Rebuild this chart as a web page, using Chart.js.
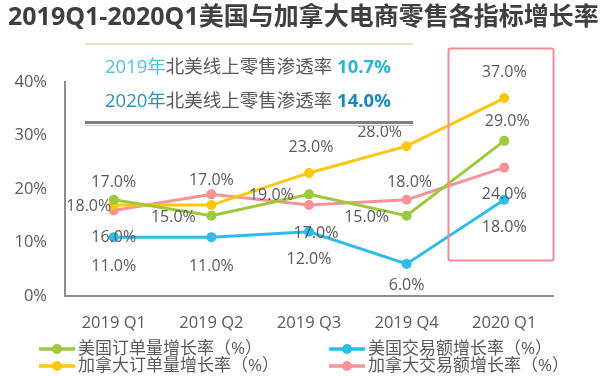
<!DOCTYPE html>
<html><head><meta charset="utf-8">
<script src="https://cdn.jsdelivr.net/npm/chart.js@4.4.0/dist/chart.umd.min.js"></script>
<style>html,body{margin:0;padding:0;background:#fff}#wrap{width:600px;height:376px;position:relative}</style>
</head><body><div id="wrap"><canvas id="c" width="600" height="376"></canvas></div>
<script>
const categories = ['2019 Q1','2019 Q2','2019 Q3','2019 Q4','2020 Q1'];
const usOrders = [18,15,19,15,29];
const usSales = [11,11,12,6,18];
const caOrders = [17,17,23,28,37];
const caSales = [16,19,17,18,24];
const yTicks = [0,10,20,30,40];
const seriesNames = ['美国订单量增长率（%）','美国交易额增长率（%）','加拿大订单量增长率（%）','加拿大交易额增长率（%）'];
const titleText = '2019Q1-2020Q1美国与加拿大电商零售各指标增长率';
const penetration = [['2019年','北美线上零售渗透率 ','10.7%'],['2020年','北美线上零售渗透率 ','14.0%']];

const FONT = "'Open Sans','Noto Sans CJK SC',sans-serif";
const colors = ['#9dc93c','#2bbde8','#fcc60a','#f4939a'];
const txt = '#595959';

// label placement: [dataset, index, dx, dy]
const labelPlacement = [
  [2,0,0,-23],[0,0,-25,7],[3,0,0,27],[1,0,0,29],
  [2,1,0,-25],[0,1,-38,2],[1,1,0,29],[3,1,60,1],
  [2,2,2,-26],[3,2,7,28],[1,2,0,28],
  [2,3,-27,-14],[3,3,3,-17],[0,3,-40,2],[1,3,0,22],
  [2,4,0,-26],[0,4,3,-19],[3,4,0,27],[1,4,0,28]
];

const deco = {
  id:'deco',
  afterDraw(chart){
    const ctx = chart.ctx;
    ctx.save();
    // title
    ctx.fillStyle = '#3f3f3f';
    ctx.font = "bold 25px " + FONT;
    ctx.textBaseline = 'middle';
    ctx.textAlign = 'left';
    ctx.fillText(titleText, 8, 18);
    // annotation box lines
    ctx.strokeStyle = '#d3ddb0'; ctx.lineWidth = 1.5;
    ctx.beginPath(); ctx.moveTo(85,44); ctx.lineTo(413,44); ctx.stroke();
    ctx.strokeStyle = '#7f7f7f'; ctx.lineWidth = 3;
    ctx.beginPath(); ctx.moveTo(85,122.5); ctx.lineTo(413,122.5); ctx.stroke();
    ctx.strokeStyle = '#c8c8c8'; ctx.lineWidth = 1;
    ctx.beginPath(); ctx.moveTo(85,125.5); ctx.lineTo(413,125.5); ctx.stroke();
    // penetration text
    const lineCols = [['#4cc3dc','#29b5d8'],['#2e8fba','#1a87bd']];
    penetration.forEach((p,k)=>{
      let x = 105; const y = k===0 ? 68 : 102;
      ctx.font = "18.5px " + FONT;
      ctx.fillStyle = lineCols[k][0]; ctx.fillText(p[0], x, y); x += ctx.measureText(p[0]).width;
      ctx.fillStyle = txt; ctx.fillText(p[1], x, y); x += ctx.measureText(p[1]).width;
      ctx.font = "bold 18.5px " + FONT;
      ctx.fillStyle = lineCols[k][1]; ctx.fillText(p[2], x, y);
    });
    // highlight box
    ctx.strokeStyle = '#f28b95'; ctx.lineWidth = 2;
    ctx.beginPath(); ctx.roundRect(448.5,48.5,105,212,2); ctx.stroke();
    // legend
    const pos = [[39,349],[329,349],[39,366],[329,366]];
    pos.forEach((pp,i)=>{
      const [x,y] = pp;
      ctx.strokeStyle = colors[i]; ctx.lineWidth = 3.5;
      ctx.beginPath(); ctx.moveTo(x,y); ctx.lineTo(x+36,y); ctx.stroke();
      ctx.fillStyle = colors[i];
      ctx.beginPath(); ctx.arc(x+18,y,5,0,Math.PI*2); ctx.fill();
      ctx.fillStyle = txt; ctx.font = "17px " + FONT; ctx.textAlign='left';
      ctx.fillText(seriesNames[i], x+39, y);
    });
    ctx.restore();
  },
  afterDatasetsDraw(chart){
    const ctx = chart.ctx;
    ctx.save();
    ctx.font = "16px " + FONT; ctx.fillStyle = txt;
    ctx.textAlign = 'center'; ctx.textBaseline = 'middle';
    labelPlacement.forEach(([d,i,dx,dy])=>{
      const pt = chart.getDatasetMeta(d).data[i];
      const v = chart.data.datasets[d].data[i];
      ctx.fillText(v.toFixed(1)+'%', pt.x+dx, pt.y+dy);
    });
    ctx.restore();
  }
};

const mk = (data,i)=>({label:seriesNames[i],data,borderColor:colors[i],backgroundColor:colors[i],
  pointBackgroundColor:colors[i],pointBorderColor:colors[i],borderWidth:3,pointRadius:5,pointBorderWidth:0,tension:0});

new Chart(document.getElementById('c'),{
  type:'line',
  data:{labels:categories,datasets:[mk(usOrders,0),mk(usSales,1),mk(caOrders,2),mk(caSales,3)]},
  options:{
    responsive:false,animation:false,
    layout:{padding:{top:82,right:47,bottom:0,left:0}},
    plugins:{legend:{display:false},tooltip:{enabled:false},title:{display:false}},
    scales:{
      x:{offset:true,grid:{display:false,drawTicks:false},border:{display:true,color:'#8c8c8c',width:2},
        ticks:{color:txt,font:{size:16.5,family:FONT},padding:17,maxRotation:0},
        afterFit(s){s.height=80;}},
      y:{min:0,max:40,grid:{display:false,drawTicks:false},border:{display:true,color:'#8c8c8c',width:2},
        afterBuildTicks(s){s.ticks=yTicks.map(v=>({value:v}));},
        ticks:{color:txt,font:{size:16.5,family:FONT},padding:18,callback:v=>v+'%'},
        afterFit(s){s.width=65;}}
    }
  },
  plugins:[deco]
});
</script></body></html>
